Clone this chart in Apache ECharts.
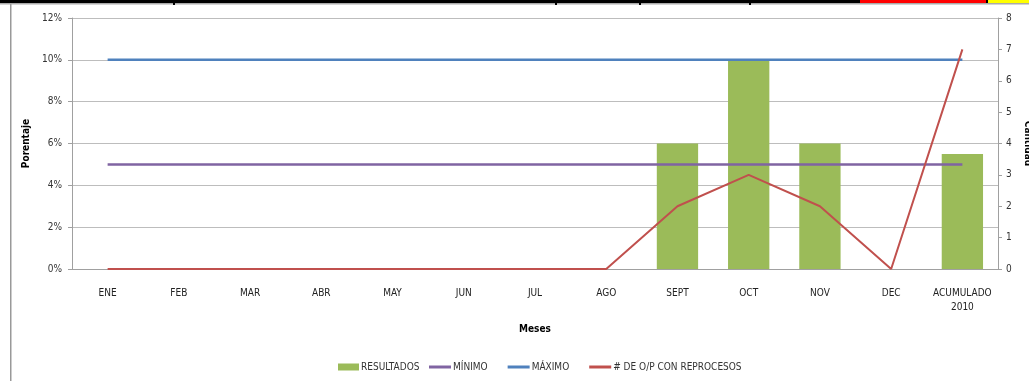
<!DOCTYPE html>
<html>
<head>
<meta charset="utf-8">
<script src="https://cdn.jsdelivr.net/npm/echarts@6/dist/echarts.min.js"></script>
<style>
  html, body { margin: 0; padding: 0; background: #fff; }
  #chart { width: 1029px; height: 381px; }
</style>
</head>
<body>
<div id="chart"></div>
<script>
// Months plus the yearly total
const categories = ['ENE', 'FEB', 'MAR', 'ABR', 'MAY', 'JUN', 'JUL', 'AGO', 'SEPT', 'OCT', 'NOV', 'DEC', 'ACUMULADO\n2010'];
// Percentage results (left axis, %)
const resultados = [null, null, null, null, null, null, null, null, 6, 10, 6, null, 5.5];
// Lower / upper limits (%)
const minimo = [5, 5, 5, 5, 5, 5, 5, 5, 5, 5, 5, 5, 5];
const maximo = [10, 10, 10, 10, 10, 10, 10, 10, 10, 10, 10, 10, 10];
// Count of orders with rework (right axis)
const reprocesos = [0, 0, 0, 0, 0, 0, 0, 0, 2, 3, 2, 0, 7];
// Axis ticks
const leftTicks = [0, 2, 4, 6, 8, 10, 12];
const rightTicks = [0, 1, 2, 3, 4, 5, 6, 7, 8];

const FONT = '"Liberation Sans Narrow", "DejaVu Sans Condensed", "Open Sans", sans-serif';
const chart = echarts.init(document.getElementById('chart'), null, { renderer: 'canvas' });

const legendText = { fontSize: 10, color: '#333', fontFamily: FONT, padding: [0, 0, 0, -3] };

chart.setOption({
  animation: false,
  textStyle: { fontFamily: FONT },
  grid: { left: 72, right: 31, top: 18, bottom: 112, containLabel: false, outerBoundsMode: 'none' },
  graphic: [
    // page frame
    { type: 'rect', shape: { x: 0, y: 0, width: 1029, height: 3 }, style: { fill: '#000' }, z: 100 },
    { type: 'rect', shape: { x: 0, y: 3, width: 1029, height: 1.5 }, style: { fill: '#aaa' }, z: 100 },
    { type: 'rect', shape: { x: 860, y: 0, width: 126, height: 3 }, style: { fill: '#ff0000' }, z: 101 },
    { type: 'rect', shape: { x: 988, y: 0, width: 41, height: 3 }, style: { fill: '#ffff00' }, z: 101 },
    { type: 'rect', shape: { x: 173, y: 0, width: 2, height: 5 }, style: { fill: '#000' }, z: 101 },
    { type: 'rect', shape: { x: 555, y: 0, width: 2, height: 5 }, style: { fill: '#000' }, z: 101 },
    { type: 'rect', shape: { x: 639, y: 0, width: 2, height: 5 }, style: { fill: '#000' }, z: 101 },
    { type: 'rect', shape: { x: 749, y: 0, width: 2, height: 5 }, style: { fill: '#000' }, z: 101 },
    { type: 'rect', shape: { x: 10, y: 4, width: 1.5, height: 377 }, style: { fill: '#999' }, z: 100 }
  ],
  legend: [
    {
      left: 333,
      top: 357,
      itemGap: 14,
      itemWidth: 21,
      itemHeight: 7,
      textStyle: legendText,
      data: [{ name: 'RESULTADOS', icon: 'rect' }]
    },
    {
      left: 424,
      top: 357,
      itemGap: 20,
      itemWidth: 22,
      itemHeight: 3,
      textStyle: legendText,
      data: [
        { name: 'MÍNIMO', icon: 'rect' },
        { name: 'MÁXIMO', icon: 'rect' },
        { name: '# DE O/P CON REPROCESOS', icon: 'rect' }
      ]
    }
  ],
  xAxis: {
    type: 'category',
    data: categories,
    boundaryGap: true,
    name: 'Meses',
    nameLocation: 'middle',
    nameGap: 55,
    nameTextStyle: { fontWeight: 'bold', fontSize: 10, color: '#000' },
    axisLine: { lineStyle: { color: '#a0a0a0' } },
    axisTick: { show: false },
    axisLabel: { interval: 0, fontSize: 10, color: '#222', margin: 17, lineHeight: 14 }
  },
  yAxis: [
    {
      type: 'value',
      min: 0, max: 12, interval: 2,
      name: 'Porentaje',
      nameLocation: 'middle',
      nameGap: 35,
      nameRotate: 90,
      nameTextStyle: { fontWeight: 'bold', fontSize: 10, color: '#000' },
      axisLine: { show: true, lineStyle: { color: '#a0a0a0' } },
      axisTick: { show: true, length: 4, lineStyle: { color: '#a0a0a0' } },
      axisLabel: { fontSize: 10, color: '#333', margin: 10, formatter: v => leftTicks.includes(v) ? v + '%' : '' },
      splitLine: { lineStyle: { color: '#bdbdbd', width: 1 } }
    },
    {
      type: 'value',
      min: 0, max: 8, interval: 1,
      name: 'Cantidad',
      nameLocation: 'middle',
      nameGap: 24,
      nameRotate: -90,
      nameTextStyle: { fontWeight: 'bold', fontSize: 10, color: '#000' },
      axisLine: { show: true, lineStyle: { color: '#a0a0a0' } },
      axisTick: { show: true, length: 4, lineStyle: { color: '#a0a0a0' } },
      axisLabel: { fontSize: 10, color: '#333', margin: 8, formatter: v => rightTicks.includes(v) ? String(v) : '' },
      splitLine: { show: false }
    }
  ],
  series: [
    {
      name: 'RESULTADOS',
      type: 'bar',
      yAxisIndex: 0,
      data: resultados,
      barWidth: '58%',
      itemStyle: { color: '#9BBB59' },
      z: 2
    },
    {
      name: 'MÍNIMO',
      type: 'line',
      yAxisIndex: 0,
      data: minimo,
      showSymbol: false,
      symbol: 'none',
      lineStyle: { color: '#8064A2', width: 2.5 },
      itemStyle: { color: '#8064A2' },
      z: 3
    },
    {
      name: 'MÁXIMO',
      type: 'line',
      yAxisIndex: 0,
      data: maximo,
      showSymbol: false,
      symbol: 'none',
      lineStyle: { color: '#4F81BD', width: 2.5 },
      itemStyle: { color: '#4F81BD' },
      z: 3
    },
    {
      name: '# DE O/P CON REPROCESOS',
      type: 'line',
      yAxisIndex: 1,
      data: reprocesos,
      showSymbol: false,
      symbol: 'none',
      lineStyle: { color: '#C0504D', width: 2 },
      itemStyle: { color: '#C0504D' },
      z: 4
    }
  ]
});
</script>
</body>
</html>
